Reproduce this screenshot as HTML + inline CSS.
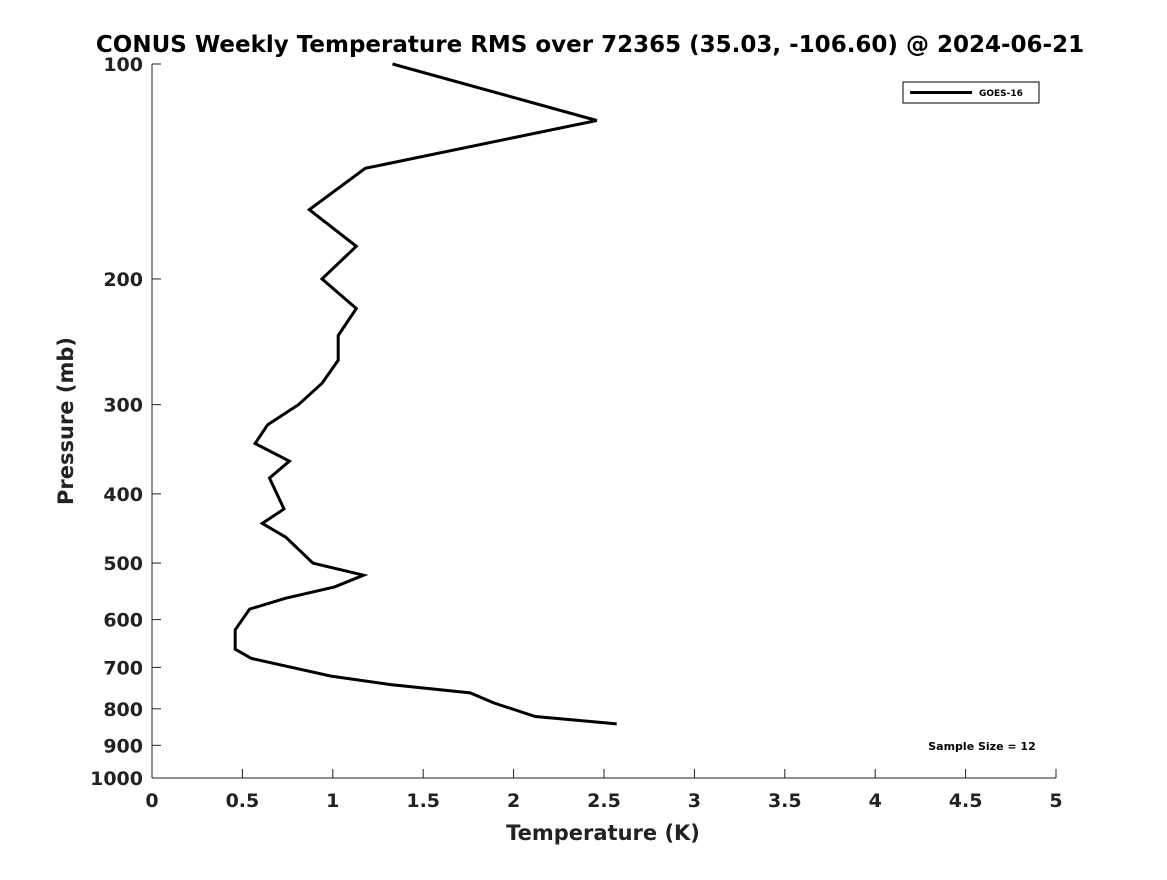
<!DOCTYPE html>
<html><head><meta charset="utf-8"><style>
body{margin:0;background:#fff;}
svg text{font-family:"DejaVu Sans","Liberation Sans",sans-serif;font-weight:bold;fill:#222;}
</style></head><body>
<svg id="chart" width="1167" height="875" viewBox="0 0 1167 875" xmlns="http://www.w3.org/2000/svg">
<rect width="1167" height="875" fill="#fff"/>
<text x="590" y="52" text-anchor="middle" font-size="23" style="fill:#000">CONUS Weekly Temperature RMS over 72365 (35.03, -106.60) @ 2024-06-21</text>
<g id="axes"></g>
<g id="series"></g>
<text x="603" y="840" text-anchor="middle" font-size="21">Temperature (K)</text>
<text transform="translate(73,421) rotate(-90)" text-anchor="middle" font-size="21">Pressure (mb)</text>
<g>
<rect x="903" y="82" width="136" height="21" fill="#fff" stroke="#000" stroke-width="1"/>
<line x1="910" y1="92.5" x2="972" y2="92.5" stroke="#000" stroke-width="3"/>
<text x="979" y="96" font-size="9" style="fill:#000">GOES-16</text>
</g>
<text x="982" y="750" text-anchor="middle" font-size="11" style="fill:#000">Sample Size = 12</text>
</svg>
<script>
const pressures=[100,120,140,160,180,200,220,240,260,280,300,320,340,360,380,420,440,460,500,520,540,560,580,620,660,680,720,740,760,785,820,840];
const temps=[1.33,2.46,1.18,0.87,1.13,0.94,1.13,1.03,1.03,0.94,0.81,0.64,0.57,0.76,0.65,0.73,0.61,0.74,0.89,1.17,1.01,0.74,0.54,0.46,0.46,0.55,0.99,1.32,1.76,1.89,2.12,2.57];
const xTicks=[0,0.5,1,1.5,2,2.5,3,3.5,4,4.5,5];
const xTickLabels=["0","0.5","1","1.5","2","2.5","3","3.5","4","4.5","5"];
const yTicks=[100,200,300,400,500,600,700,800,900,1000];
const NS="http://www.w3.org/2000/svg";
const X0=152,X1=1056,Y0=64,Y1=778;
function xs(t){return X0+(t-0)/(5-0)*(X1-X0);}
function ys(p){return Y0+(Math.log10(p)-2)/(1)*(Y1-Y0);}
function mk(tag,attrs,parent){const e=document.createElementNS(NS,tag);for(const k in attrs)e.setAttribute(k,attrs[k]);parent.appendChild(e);return e;}
const ax=document.getElementById('axes');
const xl=mk('line',{x1:X0,y1:Y1,x2:X1,y2:Y1,stroke:'#222','stroke-width':1},ax);


const yl=mk('line',{x1:X0,y1:Y0,x2:X0,y2:Y1,stroke:'#222','stroke-width':1},ax);


xTicks.forEach((t,i)=>{
  const x=xs(t);
  const tk=mk('line',{x1:x,y1:Y1,x2:x,y2:Y1-9,stroke:'#222','stroke-width':1},ax);
  
  
  const lb=mk('text',{x:x,y:807,'text-anchor':'middle','font-size':19},ax);
  lb.textContent=xTickLabels[i];
  
  
});
yTicks.forEach(p=>{
  const y=ys(p);
  const tk=mk('line',{x1:X0,y1:y,x2:X0+9,y2:y,stroke:'#222','stroke-width':1},ax);
  
  
  const lb=mk('text',{x:143,y:y+7,'text-anchor':'end','font-size':19},ax);
  lb.textContent=String(p);
  
  
});
const pts=temps.map((t,i)=>xs(t).toFixed(1)+','+ys(pressures[i]).toFixed(1)).join(' ');
const line=mk('polyline',{points:pts,fill:'none',stroke:'#000','stroke-width':3,'stroke-linejoin':'miter'},document.getElementById('series'));


</script>
</body></html>
